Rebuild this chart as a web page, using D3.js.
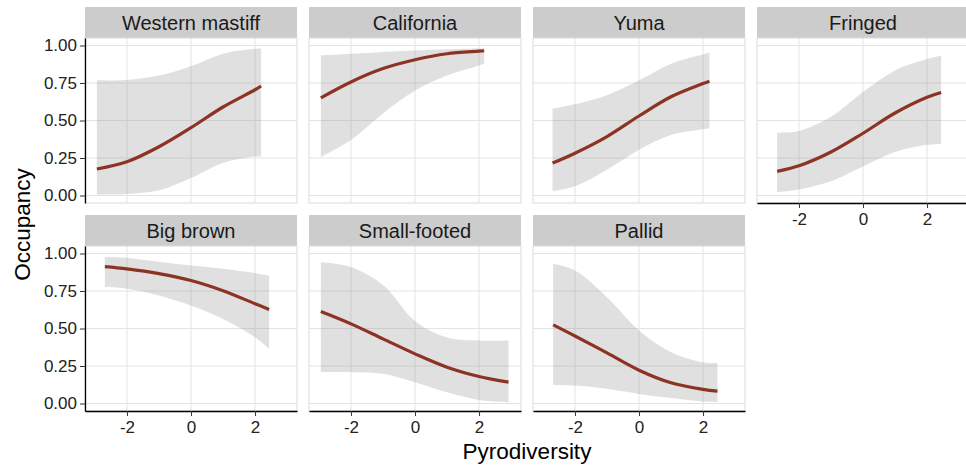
<!DOCTYPE html>
<html>
<head>
<meta charset="utf-8">
<script src="https://cdn.jsdelivr.net/npm/d3@7"></script>
<style>
  body { margin: 0; background: #fff; }
  text { font-family: "Liberation Sans", Arial, sans-serif; }
</style>
</head>
<body>
<svg></svg>
<script>
// species in facet order
const species = ['Western mastiff', 'California', 'Yuma', 'Fringed', 'Big brown', 'Small-footed', 'Pallid'];

// pyrodiversity values where the curves were read
const xMastiff = [-2.94, -2, -1, 0, 1, 2, 2.19];
const xCalifornia = [-2.94, -2, -1, 0, 1, 2, 2.16];
const xYuma = [-2.7, -2, -1, 0, 1, 2, 2.2];
const xFringed = [-2.68, -2, -1, 0, 1, 2, 2.44];
const xBigBrown = [-2.69, -2, -1, 0, 1, 2, 2.44];
const xSmallFooted = [-2.94, -2, -1, 0, 1, 2, 2.92];
const xPallid = [-2.68, -2, -1, 0, 1, 2, 2.45];

// fitted occupancy
const fitMastiff = [0.177, 0.225, 0.325, 0.452, 0.59, 0.705, 0.73];
const fitCalifornia = [0.651, 0.757, 0.846, 0.905, 0.945, 0.962, 0.965];
const fitYuma = [0.216, 0.282, 0.393, 0.53, 0.658, 0.746, 0.762];
const fitFringed = [0.161, 0.198, 0.29, 0.415, 0.55, 0.655, 0.687];
const fitBigBrown = [0.913, 0.898, 0.866, 0.82, 0.752, 0.665, 0.627];
const fitSmallFooted = [0.613, 0.531, 0.431, 0.331, 0.242, 0.18, 0.142];
const fitPallid = [0.524, 0.45, 0.337, 0.222, 0.138, 0.094, 0.082];

// lower / upper credible band
const loMastiff = [0.007, 0.01, 0.035, 0.117, 0.217, 0.26, 0.26];
const hiMastiff = [0.768, 0.77, 0.80, 0.862, 0.945, 0.978, 0.98];
const loCalifornia = [0.256, 0.37, 0.547, 0.70, 0.80, 0.867, 0.88];
const hiCalifornia = [0.934, 0.945, 0.957, 0.967, 0.975, 0.98, 0.98];
const loYuma = [0.029, 0.062, 0.172, 0.305, 0.404, 0.442, 0.448];
const hiYuma = [0.58, 0.609, 0.669, 0.768, 0.879, 0.94, 0.951];
const loFringed = [0.022, 0.04, 0.095, 0.194, 0.29, 0.338, 0.344];
const hiFringed = [0.419, 0.43, 0.525, 0.69, 0.834, 0.91, 0.934];
const loBigBrown = [0.776, 0.765, 0.72, 0.653, 0.564, 0.442, 0.364];
const hiBigBrown = [0.976, 0.97, 0.945, 0.92, 0.898, 0.869, 0.853];
const loSmallFooted = [0.209, 0.209, 0.198, 0.142, 0.075, 0.024, 0.009];
const hiSmallFooted = [0.942, 0.91, 0.79, 0.55, 0.44, 0.42, 0.42];
const loPallid = [0.124, 0.12, 0.098, 0.064, 0.036, 0.013, 0.009];
const hiPallid = [0.931, 0.887, 0.709, 0.487, 0.342, 0.275, 0.27];

const xTicks = [-2, 0, 2];
const yTicks = [0, 0.25, 0.5, 0.75, 1];

const series = [
  [xMastiff, fitMastiff, loMastiff, hiMastiff],
  [xCalifornia, fitCalifornia, loCalifornia, hiCalifornia],
  [xYuma, fitYuma, loYuma, hiYuma],
  [xFringed, fitFringed, loFringed, hiFringed],
  [xBigBrown, fitBigBrown, loBigBrown, hiBigBrown],
  [xSmallFooted, fitSmallFooted, loSmallFooted, hiSmallFooted],
  [xPallid, fitPallid, loPallid, hiPallid]
];

const svg = d3.select('svg').attr('width', 966).attr('height', 467);

const panelW = 212, panelH = 165, gapX = 12;
const left0 = 85;
const stripH = 31;
const rowTop = [38, 246];

const x = d3.scaleLinear().domain([-3.31, 3.31]).range([0, panelW]);
const y = d3.scaleLinear().domain([-0.05, 1.05]).range([panelH, 0]);

const smooth = d3.curveCatmullRom.alpha(0.5);
const area = d3.area().curve(smooth)
  .x(d => x(d.x)).y0(d => y(d.lo)).y1(d => y(d.hi));
const line = d3.line().curve(smooth)
  .x(d => x(d.x)).y(d => y(d.fit));

species.forEach((name, i) => {
  const col = i % 4, row = Math.floor(i / 4);
  const px = left0 + col * (panelW + gapX);
  const py = rowTop[row];
  const [xs, fit, lo, hi] = series[i];
  const pts = xs.map((v, j) => ({x: v, fit: fit[j], lo: lo[j], hi: hi[j]}));

  // strip
  svg.append('rect')
    .attr('x', px).attr('y', py - stripH)
    .attr('width', panelW).attr('height', stripH)
    .attr('fill', '#cccccc');
  svg.append('text')
    .attr('x', px + panelW / 2).attr('y', py - stripH / 2)
    .attr('dy', '0.36em')
    .attr('text-anchor', 'middle')
    .attr('font-size', '20px')
    .attr('fill', '#1a1a1a')
    .text(name);

  const g = svg.append('g').attr('transform', `translate(${px},${py})`);

  g.append('rect')
    .attr('width', panelW).attr('height', panelH)
    .attr('fill', '#fff')
    .attr('stroke', '#dcdcdc').attr('stroke-width', 1);

  g.selectAll('.gy').data(yTicks).enter().append('line')
    .attr('x1', 0).attr('x2', panelW)
    .attr('y1', d => y(d)).attr('y2', d => y(d))
    .attr('stroke', '#e3e3e3').attr('stroke-width', 1);
  g.selectAll('.gx').data(xTicks).enter().append('line')
    .attr('y1', 0).attr('y2', panelH)
    .attr('x1', d => x(d)).attr('x2', d => x(d))
    .attr('stroke', '#e3e3e3').attr('stroke-width', 1);

  g.append('path').datum(pts)
    .attr('d', area)
    .attr('fill', '#999999').attr('fill-opacity', 0.3);
  g.append('path').datum(pts)
    .attr('d', line)
    .attr('fill', 'none')
    .attr('stroke', '#8c3323').attr('stroke-width', 3.2);

  if (col === 0) {
    const ay = g.append('g').call(d3.axisLeft(y).tickValues(yTicks)
      .tickFormat(d3.format('.2f')).tickSize(5).tickSizeOuter(0).tickPadding(3));
    ay.select('.domain').attr('stroke', '#000').attr('stroke-width', 1.3);
    ay.selectAll('.tick line').attr('stroke', '#333');
    ay.selectAll('text').attr('font-size', '17px').attr('fill', '#222')
      .attr('font-family', '"Liberation Sans", Arial, sans-serif');
  }
  if (row === 1 || col === 3) {
    const ax = g.append('g').attr('transform', `translate(0,${panelH})`)
      .call(d3.axisBottom(x).tickValues(xTicks)
        .tickFormat(d => String(d)).tickSize(5).tickSizeOuter(0).tickPadding(5));
    ax.select('.domain').attr('stroke', '#000').attr('stroke-width', 1.3);
    ax.selectAll('.tick line').attr('stroke', '#333');
    ax.selectAll('text').attr('font-size', '17px').attr('fill', '#222')
      .attr('font-family', '"Liberation Sans", Arial, sans-serif');
  }
});

svg.append('text')
  .attr('transform', `translate(30,${(rowTop[0] + rowTop[1] + panelH) / 2}) rotate(-90)`)
  .attr('text-anchor', 'middle')
  .attr('font-size', '22.5px')
  .attr('fill', '#000')
  .text('Occupancy');

svg.append('text')
  .attr('x', left0 + (4 * panelW + 3 * gapX) / 2)
  .attr('y', 459)
  .attr('text-anchor', 'middle')
  .attr('font-size', '22.5px')
  .attr('fill', '#000')
  .text('Pyrodiversity');
</script>
</body>
</html>
